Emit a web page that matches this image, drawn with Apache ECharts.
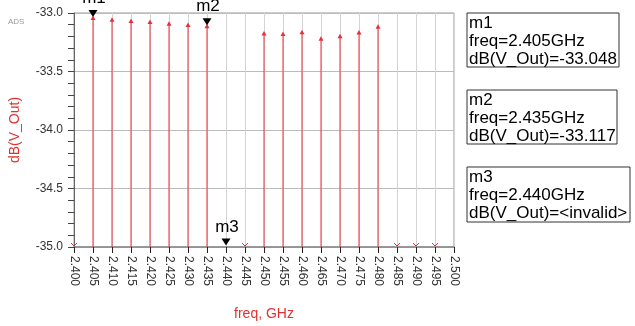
<!DOCTYPE html>
<html><head><meta charset="utf-8">
<script src="https://cdn.jsdelivr.net/npm/echarts@6/dist/echarts.min.js"></script>
<style>html,body{margin:0;padding:0;background:#fff}#c{width:635px;height:326px}</style>
</head><body><div id="c"></div>
<script>
// Data
var freqs  = [2.400, 2.405, 2.410, 2.415, 2.420, 2.425, 2.430, 2.435, 2.445, 2.450, 2.455, 2.460, 2.465, 2.470, 2.475, 2.480, 2.485, 2.490, 2.495];
var values = [-35.0, -33.048, -33.062, -33.072, -33.082, -33.097, -33.107, -33.117, -35.0, -33.180, -33.184, -33.168, -33.225, -33.203, -33.171, -33.121, -35.0, -35.0, -35.0];
var markerNames = ['m1', 'm2', 'm3'];
var markerFreqs = [2.405, 2.435, 2.440];
var markerVals  = [-33.048, -33.117, -35.0];
var markerTexts = ['dB(V_Out)=-33.048', 'dB(V_Out)=-33.117', 'dB(V_Out)=<invalid>'];
var yMin = -35, yMax = -33;

var FONT = '"Liberation Sans", Arial, sans-serif';
var chart = echarts.init(document.getElementById('c'));

var pts = freqs.map(function (f, i) { return [f, values[i]]; });
var mks = markerFreqs.map(function (f, i) { return [f, markerVals[i], i]; });

var boxes = [[467, 13, 152, 54], [467, 90, 150, 54], [467, 167, 163, 55]];
var graphics = [{
  type: 'text', left: 8, top: 18,
  style: { text: 'ADS', font: '8px ' + FONT, fill: '#999' }
}];
boxes.forEach(function (b, i) {
  graphics.push({
    type: 'rect', shape: { x: b[0], y: b[1], width: b[2], height: b[3] },
    style: { fill: '#fff', stroke: '#333', lineWidth: 1 }
  });
  graphics.push({
    type: 'text', x: b[0] + 2, y: b[1] + 1,
    style: {
      text: markerNames[i] + '\nfreq=' + markerFreqs[i].toFixed(3) + 'GHz\n' + markerTexts[i],
      font: '17px ' + FONT, lineHeight: 18, fill: '#000', verticalAlign: 'top'
    }
  });
});

chart.setOption({
  animation: false,
  backgroundColor: '#fff',
  grid: { left: 69, right: 181, top: 13, bottom: 68, show: true, borderColor: '#999', borderWidth: 1 },
  xAxis: {
    type: 'value', min: 2.4, max: 2.5, interval: 0.005,
    name: 'freq, GHz', nameLocation: 'middle', nameGap: 60,
    nameTextStyle: { color: '#e03030', fontSize: 14, fontFamily: FONT },
    axisLine: { show: true, lineStyle: { color: '#888', width: 1.5 } },
    axisTick: { show: true, length: 6, lineStyle: { color: '#222' } },
    axisLabel: { rotate: -90, margin: 9, fontSize: 12, fontFamily: FONT, color: '#333',
      formatter: function (v) { return v.toFixed(3); } },
    splitLine: { show: true, lineStyle: { color: '#d4d4d4', width: 1 } }
  },
  yAxis: {
    type: 'value', min: yMin, max: yMax, interval: 0.5,
    name: 'dB(V_Out)', nameLocation: 'middle', nameGap: 52, nameRotate: 90,
    nameTextStyle: { color: '#e03030', fontSize: 14, fontFamily: FONT },
    axisLine: { show: true, lineStyle: { color: '#666', width: 1 } },
    axisTick: { show: true, length: 6, lineStyle: { color: '#444' } },
    minorTick: { show: true, splitNumber: 5, length: 6, lineStyle: { color: '#444' } },
    axisLabel: { margin: 11, fontSize: 12, fontFamily: FONT, color: '#333',
      formatter: function (v) { return v.toFixed(1); } },
    splitLine: { show: true, lineStyle: { color: '#bbb', width: 1 } }
  },
  graphic: graphics,
  series: [{
    type: 'custom',
    data: pts,
    renderItem: function (params, api) {
      var x = api.value(0), y = api.value(1);
      var base = api.coord([x, yMin]);
      var red = '#e8303a';
      if (y <= yMin) {
        return {
          type: 'polyline',
          shape: { points: [[base[0] - 3, base[1] - 4], [base[0], base[1] - 1], [base[0] + 3, base[1] - 4]] },
          style: { stroke: red, lineWidth: 1, fill: null }
        };
      }
      var p = api.coord([x, y]);
      return {
        type: 'group',
        children: [{
          type: 'line',
          shape: { x1: base[0], y1: base[1], x2: p[0], y2: p[1] },
          style: { stroke: red, lineWidth: 1 }
        }, {
          type: 'polygon',
          shape: { points: [[p[0], p[1] - 3], [p[0] - 2.5, p[1] + 1.5], [p[0] + 2.5, p[1] + 1.5]] },
          style: { fill: red }
        }]
      };
    },
    z: 3
  }, {
    type: 'custom',
    data: mks,
    clip: false,
    renderItem: function (params, api) {
      var x = api.value(0), y = api.value(1), k = api.value(2);
      var p = api.coord([x, y]);
      var tip = p[1] - 1.5;
      return {
        type: 'group',
        children: [{
          type: 'polygon',
          shape: { points: [[p[0] - 4.5, tip - 7], [p[0] + 4.5, tip - 7], [p[0], tip]] },
          style: { fill: '#000' }
        }, {
          type: 'text',
          x: p[0] + 1, y: tip - 10,
          style: { text: markerNames[k], font: '17px ' + FONT, fill: '#000', align: 'center', verticalAlign: 'bottom' }
        }]
      };
    },
    z: 5
  }]
});
</script></body></html>
